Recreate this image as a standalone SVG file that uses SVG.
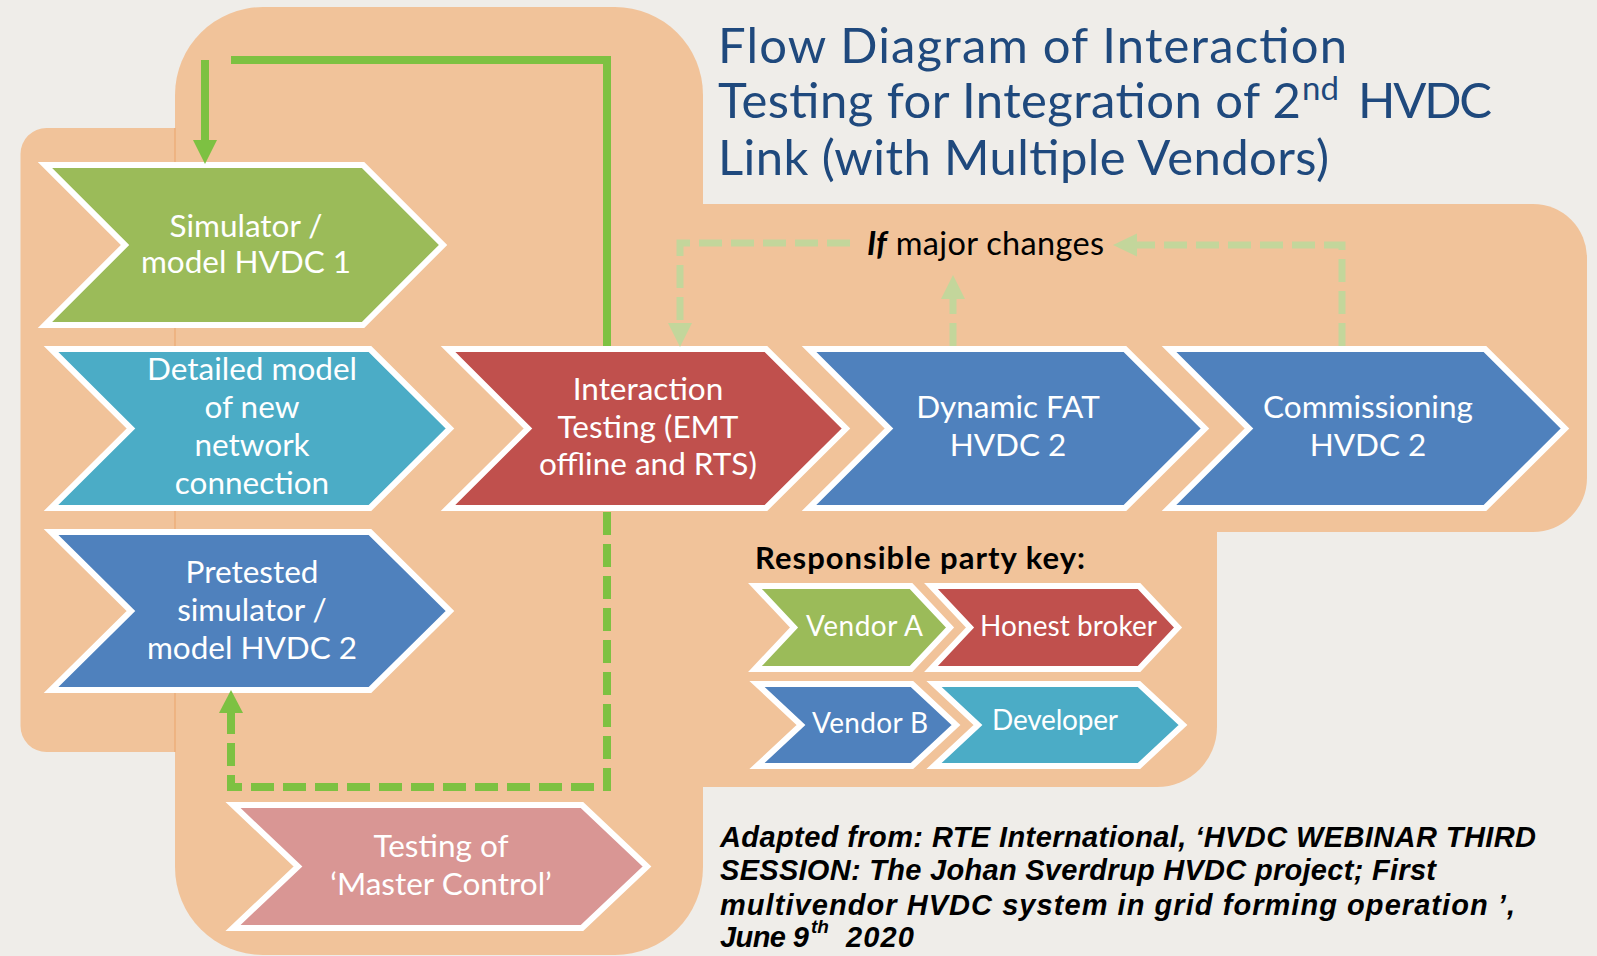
<svg xmlns="http://www.w3.org/2000/svg" width="1597" height="956" viewBox="0 0 1597 956">
  <style>
    .peach { fill: #F1C39A; }
    .chev { stroke: #FFFFFF; stroke-width: 6; stroke-linejoin: miter; }
    .green { fill: #9BBB59; }
    .cyan { fill: #4BACC6; }
    .red { fill: #C0504D; }
    .blue { fill: #4F81BD; }
    .pink { fill: #D99694; }
    .nt { font-family: Lato, "Open Sans", sans-serif; font-size: 31.5px; fill: #FFFFFF; text-anchor: middle; }
    .kt { font-family: Lato, "Open Sans", sans-serif; font-size: 28px; fill: #FFFFFF; }
    .title { font-family: Lato, "Open Sans", sans-serif; font-size: 49px; fill: #1F497D; }
    .title-sup { font-size: 33px; }
    .fn { font-family: "Liberation Sans", Arial, sans-serif; font-size: 29px; font-weight: bold; font-style: italic; fill: #000000; }
    .fn-sup { font-size: 19px; }
    .solid { fill: none; stroke: #7DC142; stroke-width: 8; }
    .dash { fill: none; stroke: #7DC142; stroke-width: 8; stroke-dasharray: 23 9; }
    .light { fill: none; stroke: #C3D69B; stroke-width: 7; stroke-dasharray: 23 9; }
    .headS { fill: #7DC142; }
    .headL { fill: #C3D69B; }
  </style>

  <!-- page background -->
  <rect x="0" y="0" width="1597" height="956" fill="#EFEDE9"/>

  <!-- peach backdrop panels -->
  <g id="backdrop">
    <path class="peach" d="M20.5,154 A26,26 0 0 1 46.5,128 H180 V752 H46.5 A26,26 0 0 1 20.5,726 Z"/>
    <path class="peach" d="M703,204 H1533 A54,54 0 0 1 1587,258 V478 A54,54 0 0 1 1533,532 H703 Z"/>
    <path class="peach" d="M703,530 H1217 V727 A60,60 0 0 1 1157,787 H703 Z"/>
    <path class="peach" d="M175,95 A88,88 0 0 1 263,7 H615 A88,88 0 0 1 703,95 V867 A88,88 0 0 1 615,955 H263 A88,88 0 0 1 175,867 Z"/>
    <line x1="175" y1="128" x2="175" y2="752" stroke="#EDA46B" stroke-width="1.2" opacity="0.8"/>
  </g>

  <!-- title -->
  <g id="title">
    <text class="title" x="718" y="63" textLength="629">Flow Diagram of Interaction</text>
    <text class="title" x="718" y="118"><tspan textLength="583">Testing for Integration of 2</tspan><tspan class="title-sup" x="1302" y="100">nd</tspan><tspan x="1358" y="118" textLength="134">HVDC</tspan></text>
    <text class="title" x="718" y="175" textLength="611">Link (with Multiple Vendors)</text>
  </g>

  <!-- process steps -->
  <g id="node-simulator-hvdc1">
    <polygon class="chev green" points="45,165 363,165 443,245 363,325 45,325 125,245"/>
    <text class="nt" x="246" y="237">Simulator /</text>
    <text class="nt" x="246" y="273">model HVDC 1</text>
  </g>

  <g id="node-detailed-model">
    <polygon class="chev cyan" points="51,349 370,349 450,428.5 370,508 51,508 131,428.5"/>
    <text class="nt" x="252" y="380">Detailed model</text>
    <text class="nt" x="252" y="418">of new</text>
    <text class="nt" x="252" y="456">network</text>
    <text class="nt" x="252" y="494">connection</text>
  </g>

  <g id="node-pretested">
    <polygon class="chev blue" points="51,532 370,532 450,611 370,690 51,690 131,611"/>
    <text class="nt" x="252" y="583">Pretested</text>
    <text class="nt" x="252" y="621">simulator /</text>
    <text class="nt" x="252" y="659">model HVDC 2</text>
  </g>

  <g id="node-interaction-testing">
    <polygon class="chev red" points="448,349 766,349 846,428.5 766,508 448,508 528,428.5"/>
    <text class="nt" x="648" y="400">Interaction</text>
    <text class="nt" x="648" y="437.5">Testing (EMT</text>
    <text class="nt" x="648" y="475">offline and RTS)</text>
  </g>

  <g id="node-dynamic-fat">
    <polygon class="chev blue" points="809,349 1125,349 1205,428.5 1125,508 809,508 889,428.5"/>
    <text class="nt" x="1008" y="418">Dynamic FAT</text>
    <text class="nt" x="1008" y="456">HVDC 2</text>
  </g>

  <g id="node-commissioning">
    <polygon class="chev blue" points="1169,349 1485,349 1565,428.5 1485,508 1169,508 1249,428.5"/>
    <text class="nt" x="1368" y="418">Commissioning</text>
    <text class="nt" x="1368" y="456">HVDC 2</text>
  </g>

  <g id="node-master-control">
    <polygon class="chev pink" points="233,805 582,805 647,866.5 582,928 233,928 298,866.5"/>
    <text class="nt" x="441" y="857">Testing of</text>
    <text class="nt" x="441" y="895">‘Master Control’</text>
  </g>

  <!-- responsible party key -->
  <g id="key">
    <text x="755" y="569" font-family="Lato, 'Open Sans', sans-serif" font-size="31px" font-weight="bold" fill="#000000" textLength="330">Responsible party key:</text>
    <g id="key-vendor-a">
      <polygon class="chev green" points="755,586 911,586 950,627.5 911,669 755,669 794,627.5"/>
      <text class="kt" x="806" y="636" textLength="117">Vendor A</text>
    </g>
    <g id="key-honest-broker">
      <polygon class="chev red" points="931,586 1139,586 1178,627.5 1139,669 931,669 970,627.5"/>
      <text class="kt" x="980" y="636" textLength="177">Honest broker</text>
    </g>
    <g id="key-vendor-b">
      <polygon class="chev blue" points="757,684 912,684 956,725 912,766 757,766 801,725"/>
      <text class="kt" x="812" y="733" textLength="116">Vendor B</text>
    </g>
    <g id="key-developer">
      <polygon class="chev cyan" points="934,684 1139,684 1183,725 1139,766 934,766 978,725"/>
      <text class="kt" x="992" y="730" textLength="126">Developer</text>
    </g>
  </g>

  <!-- connectors -->
  <g id="connectors">
    <line class="solid" x1="205" y1="60" x2="205" y2="142"/>
    <polygon class="headS" points="193,140 217,140 205,164"/>
    <path class="solid" d="M231,60 H607 V346"/>

    <path class="dash" d="M607,512 V787 H231 V712"/>
    <polygon class="headS" points="219,713 243,713 231,690"/>

    <path class="light" d="M1342,346 V245 H1136"/>
    <polygon class="headL" points="1137,233.5 1137,256.5 1113,245"/>

    <path class="light" d="M850,243 H680 V324"/>
    <polygon class="headL" points="668,323 692,323 680,347"/>

    <path class="light" d="M953,346 V298"/>
    <polygon class="headL" points="941,299 965,299 953,275"/>

    <text x="867" y="255" font-family="Lato, 'Open Sans', sans-serif" font-size="32.5px" fill="#000000" textLength="237"><tspan font-weight="bold" font-style="italic">If</tspan> major changes</text>
  </g>

  <!-- source note -->
  <g id="source-note">
    <text class="fn" x="720" y="847" textLength="816">Adapted from: RTE International, ‘HVDC WEBINAR THIRD</text>
    <text class="fn" x="720" y="880" textLength="716">SESSION: The Johan Sverdrup HVDC project; First</text>
    <text class="fn" x="720" y="915" textLength="795">multivendor HVDC system in grid forming operation ’,</text>
    <text class="fn" x="720" y="947"><tspan textLength="89">June 9</tspan><tspan class="fn-sup" x="811" y="933">th</tspan><tspan x="846" y="947" textLength="68">2020</tspan></text>
  </g>
</svg>
